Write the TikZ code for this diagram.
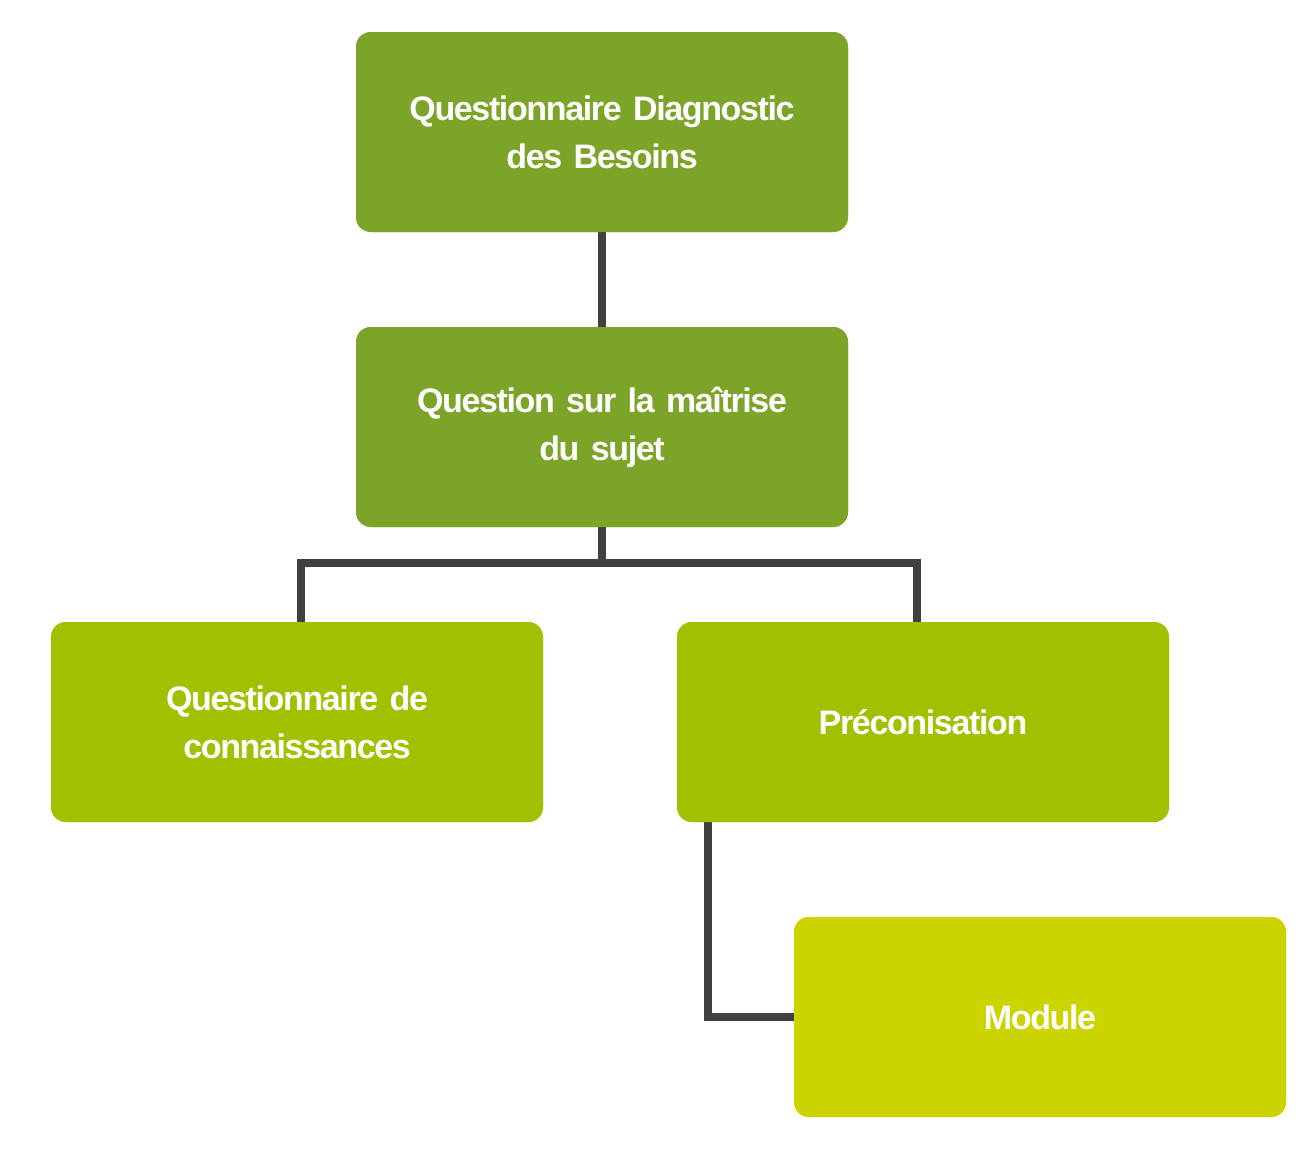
\documentclass[tikz,border=0pt]{standalone}
\usepackage{fontspec}
\setmainfont{Liberation Sans}[LetterSpace=-4]
\usetikzlibrary{positioning,calc}
\definecolor{darkgreen}{HTML}{7BA428}
\definecolor{midgreen}{HTML}{A3C000}
\definecolor{lightgreen}{HTML}{CCD400}
\definecolor{linkgray}{HTML}{404040}
\tikzset{
  box/.style={rounded corners=7.5pt, minimum width=246pt, minimum height=100pt,
    text width=230pt, align=center, text=white,
    font=\fontsize{17}{24}\selectfont\bfseries},
  link/.style={draw=linkgray, line width=4pt}
}
\begin{document}
\begin{tikzpicture}[x=0.5pt,y=-0.5pt]
        \useasboundingbox (0,0) rectangle (1313,1148);
        %nodes
        \node[box, fill=darkgreen] (diag) at (602,132) {Questionnaire Diagnostic\\des Besoins};
        \node[box, fill=darkgreen] (maitrise) at (602,427) {Question sur la maîtrise\\du sujet};
        \node[box, fill=midgreen] (connais) at (297,722) {Questionnaire de\\connaissances};
        \node[box, fill=midgreen] (preco) at (923,722) {Préconisation};
        \node[box, fill=lightgreen] (module) at (1040,1017) {Module};
        \coordinate (split) at (602,563);
        %edges
        \path[link] (diag) -- (maitrise);
        \path[link] (maitrise) -- (split) -| ([xshift=2pt]connais.north);
        \path[link] (split) -| ([xshift=-3pt]preco.north);
        \path[link] ([xshift=15.5pt]preco.south west) |- (module.west);
        % boxes on top of links
        \node[box, fill=darkgreen] at (diag) {Questionnaire Diagnostic\\des Besoins};
        \node[box, fill=darkgreen] at (maitrise) {Question sur la maîtrise\\du sujet};
        \node[box, fill=midgreen] at (connais) {Questionnaire de\\connaissances};
        \node[box, fill=midgreen] at (preco) {Préconisation};
        \node[box, fill=lightgreen] at (module) {Module};
\end{tikzpicture}
\end{document}
